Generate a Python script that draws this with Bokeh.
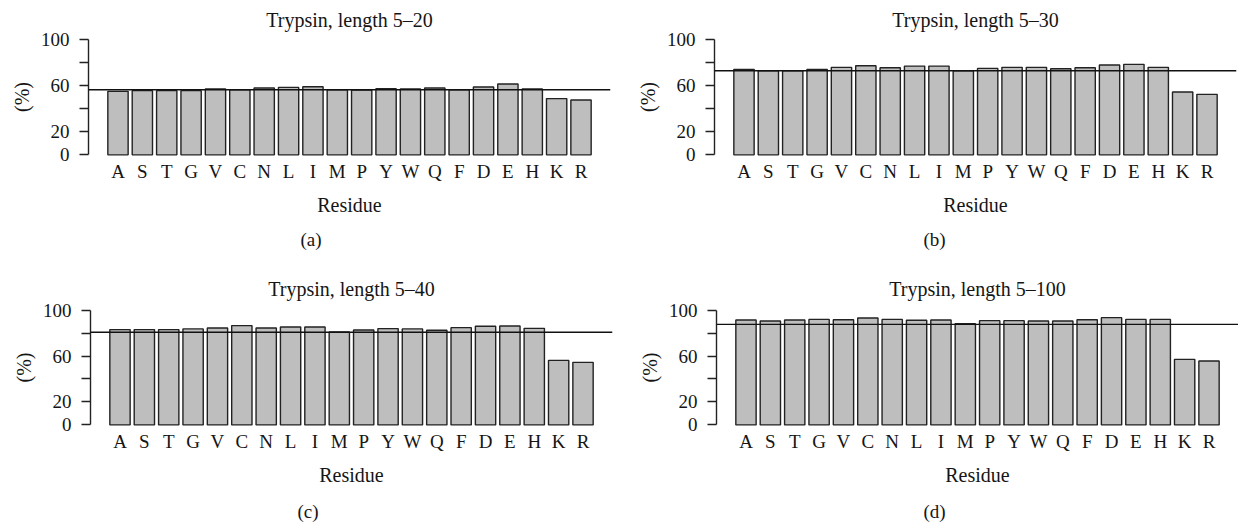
from bokeh.plotting import figure
from bokeh.models import FactorRange, Range1d, FixedTicker, Span, Title, ColumnDataSource
from bokeh.layouts import row, column
from bokeh.embed import file_html
from bokeh.resources import INLINE

residues = ["A", "S", "T", "G", "V", "C", "N", "L", "I", "M",
            "P", "Y", "W", "Q", "F", "D", "E", "H", "K", "R"]

pct_5_20 = [54.9, 55.5, 55.5, 55.5, 56.9, 56.3, 57.8, 58.3, 58.9, 56.3,
            56.0, 57.2, 56.9, 57.8, 56.3, 58.6, 61.2, 56.9, 48.6, 47.4]
pct_5_30 = [73.9, 72.7, 72.7, 73.9, 75.6, 77.0, 75.3, 76.7, 76.7, 72.7,
            74.7, 75.6, 75.6, 74.4, 75.3, 77.6, 78.2, 75.6, 54.3, 52.3]
pct_5_40 = [83.0, 83.0, 83.0, 83.6, 84.4, 86.5, 84.4, 85.3, 85.3, 81.0,
            82.7, 83.9, 83.6, 82.4, 84.7, 85.9, 86.2, 84.1, 56.2, 54.5]
pct_5_100 = [91.4, 90.5, 91.4, 91.9, 91.6, 93.1, 91.9, 91.1, 91.4, 88.2,
             90.8, 90.8, 90.5, 90.5, 91.6, 93.4, 91.9, 91.9, 57.1, 55.6]

overall = [56.3, 72.7, 80.7, 87.6]
titles = ["Trypsin, length 5\u201320", "Trypsin, length 5\u201330",
          "Trypsin, length 5\u201340", "Trypsin, length 5\u2013100"]
captions = ["(a)", "(b)", "(c)", "(d)"]
y_ticks = [0, 20, 40, 60, 80, 100]

FONT = "Liberation Serif"
INK = "#151515"


def panel(vals, ref, title, caption, width, height, bl, br, bt, bb,
          title_stand, cap_off, cap_stand):
    p = figure(x_range=FactorRange(factors=residues, range_padding=0.71,
                                   range_padding_units="absolute"),
               y_range=Range1d(-4, 104), width=width, height=height,
               output_backend="svg", toolbar_location=None,
               min_border_left=bl, min_border_right=br,
               min_border_top=bt, min_border_bottom=bb)
    p.title.text = title
    p.title.align = "center"
    p.title.text_font = FONT
    p.title.text_font_size = "20px"
    p.title.text_font_style = "normal"
    p.title.text_color = INK
    p.title.standoff = title_stand
    src = ColumnDataSource(data=dict(res=residues, val=vals))
    p.vbar(x="res", top="val", bottom=0, width=1 / 1.2, source=src,
           fill_color="#bebebe", line_color="#222222", line_width=1.4)
    p.add_layout(Span(location=ref, dimension="width", line_color="#111111",
                      line_width=1.4))
    p.grid.visible = False
    p.outline_line_color = None
    p.background_fill_color = "white"

    ya = p.yaxis[0]
    ya.ticker = FixedTicker(ticks=y_ticks)
    ya.major_label_overrides = {40: "", 80: ""}
    ya.bounds = (0, 100)
    ya.minor_tick_line_color = None
    ya.major_tick_out = 9
    ya.major_tick_in = 0
    ya.major_label_standoff = 10
    ya.axis_line_color = "#222222"
    ya.major_tick_line_color = "#222222"
    ya.axis_line_width = 1.4
    ya.major_tick_line_width = 1.4
    ya.major_label_text_font = FONT
    ya.major_label_text_font_size = "19px"
    ya.major_label_text_color = INK
    ya.axis_label = "(%)"
    ya.axis_label_text_font = FONT
    ya.axis_label_text_font_size = "20px"
    ya.axis_label_text_font_style = "normal"
    ya.axis_label_text_color = INK
    ya.axis_label_standoff = 5

    xa = p.xaxis[0]
    xa.axis_line_color = None
    xa.major_tick_line_color = None
    xa.minor_tick_line_color = None
    xa.major_tick_out = 0
    xa.major_tick_in = 0
    xa.major_label_standoff = 1
    xa.major_label_text_font = FONT
    xa.major_label_text_font_size = "19px"
    xa.major_label_text_color = INK
    xa.axis_label = "Residue"
    xa.axis_label_text_font = FONT
    xa.axis_label_text_font_size = "20px"
    xa.axis_label_text_font_style = "normal"
    xa.axis_label_text_color = INK
    xa.axis_label_standoff = 9

    cap = Title(text=caption, align="left", offset=cap_off, standoff=cap_stand,
                text_font=FONT, text_font_size="19px", text_font_style="normal",
                text_color=INK)
    p.add_layout(cap, "below")
    return p


pa = panel(pct_5_20, overall[0], titles[0], captions[0], 620, 268, 88, 10, 34, 109, 8, 212, 16)
pb = panel(pct_5_30, overall[1], titles[1], captions[1], 618, 268, 94, 2, 34, 109, 8, 209, 16)
pc = panel(pct_5_40, overall[2], titles[2], captions[2], 620, 263, 90, 8, 37, 101, 12, 207, 20)
pd_ = panel(pct_5_100, overall[3], titles[3], captions[3], 618, 263, 96, 0, 37, 101, 12, 207, 20)

layout = column(row(pa, pb), row(pc, pd_))
open("out.html", "w").write(file_html(layout, INLINE))
